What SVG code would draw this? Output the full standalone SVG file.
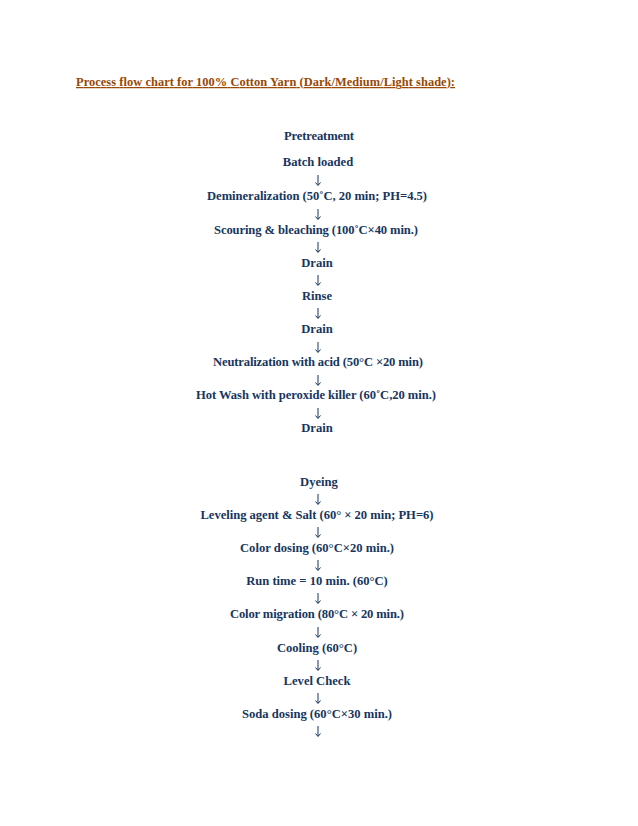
<svg xmlns="http://www.w3.org/2000/svg" width="638" height="826" viewBox="0 0 638 826">
<style>
.t{font-family:"Liberation Serif","Times New Roman",serif;font-weight:bold;font-size:12.6px;fill:#17365D;text-anchor:middle}
.title{font-family:"Liberation Serif","Times New Roman",serif;font-weight:bold;font-size:12.4px;fill:#984806;text-decoration:underline}
.a{stroke:#17365D;stroke-width:1;fill:none}
</style>
<rect width="638" height="826" fill="#fff"/>
<text id="title" class="title" x="76" y="86" textLength="379" lengthAdjust="spacing">Process flow chart for 100% Cotton Yarn (Dark/Medium/Light shade):</text>
<g id="connectors">
<path class="a" d="M318 175v10M315.5 182.5l2.5 3 2.5-3"/>
<path class="a" d="M318 209v10M315.5 216.5l2.5 3 2.5-3"/>
<path class="a" d="M318 242v10M315.5 249.5l2.5 3 2.5-3"/>
<path class="a" d="M318 275v10M315.5 282.5l2.5 3 2.5-3"/>
<path class="a" d="M318 308v10M315.5 315.5l2.5 3 2.5-3"/>
<path class="a" d="M318 342v10M315.5 349.5l2.5 3 2.5-3"/>
<path class="a" d="M318 375v10M315.5 382.5l2.5 3 2.5-3"/>
<path class="a" d="M318 408v10M315.5 415.5l2.5 3 2.5-3"/>
<path class="a" d="M318 494v10M315.5 501.5l2.5 3 2.5-3"/>
<path class="a" d="M318 527v10M315.5 534.5l2.5 3 2.5-3"/>
<path class="a" d="M318 560v10M315.5 567.5l2.5 3 2.5-3"/>
<path class="a" d="M318 593v10M315.5 600.5l2.5 3 2.5-3"/>
<path class="a" d="M318 627v10M315.5 634.5l2.5 3 2.5-3"/>
<path class="a" d="M318 660v10M315.5 667.5l2.5 3 2.5-3"/>
<path class="a" d="M318 693v10M315.5 700.5l2.5 3 2.5-3"/>
<path class="a" d="M318 726v10M315.5 733.5l2.5 3 2.5-3"/>
</g>
<g id="pretreatment"><text class="t" x="319" y="140" textLength="70" lengthAdjust="spacing">Pretreatment</text></g>
<g id="batch-loaded"><text class="t" x="318" y="166">Batch loaded</text></g>
<g id="demineralization"><text class="t" x="317" y="200" textLength="220" lengthAdjust="spacing">Demineralization  (50˚C, 20 min;  PH=4.5)</text></g>
<g id="scouring"><text class="t" x="316" y="234" textLength="204" lengthAdjust="spacing">Scouring &amp; bleaching (100˚C×40 min.)</text></g>
<g id="drain1"><text class="t" x="317" y="267">Drain</text></g>
<g id="rinse"><text class="t" x="317" y="300">Rinse</text></g>
<g id="drain2"><text class="t" x="317" y="333">Drain</text></g>
<g id="neutralization"><text class="t" x="318" y="366" textLength="210" lengthAdjust="spacing">Neutralization  with  acid (50°C ×20 min)</text></g>
<g id="hot-wash"><text class="t" x="316" y="399" textLength="240" lengthAdjust="spacing">Hot Wash with peroxide killer (60˚C,20 min.)</text></g>
<g id="drain3"><text class="t" x="317" y="432">Drain</text></g>
<g id="dyeing"><text class="t" x="319" y="486">Dyeing</text></g>
<g id="leveling"><text class="t" x="317" y="519" textLength="233" lengthAdjust="spacing">Leveling agent &amp; Salt (60° × 20 min; PH=6)</text></g>
<g id="color-dosing"><text class="t" x="317" y="552">Color dosing (60°C×20 min.)</text></g>
<g id="run-time"><text class="t" x="317" y="585">Run time = 10 min. (60°C)</text></g>
<g id="color-migration"><text class="t" x="317" y="618" textLength="174" lengthAdjust="spacing">Color migration  (80°C × 20 min.)</text></g>
<g id="cooling"><text class="t" x="317" y="652">Cooling (60°C)</text></g>
<g id="level-check"><text class="t" x="317" y="685">Level Check</text></g>
<g id="soda-dosing"><text class="t" x="317" y="718">Soda dosing (60°C×30 min.)</text></g>
</svg>
